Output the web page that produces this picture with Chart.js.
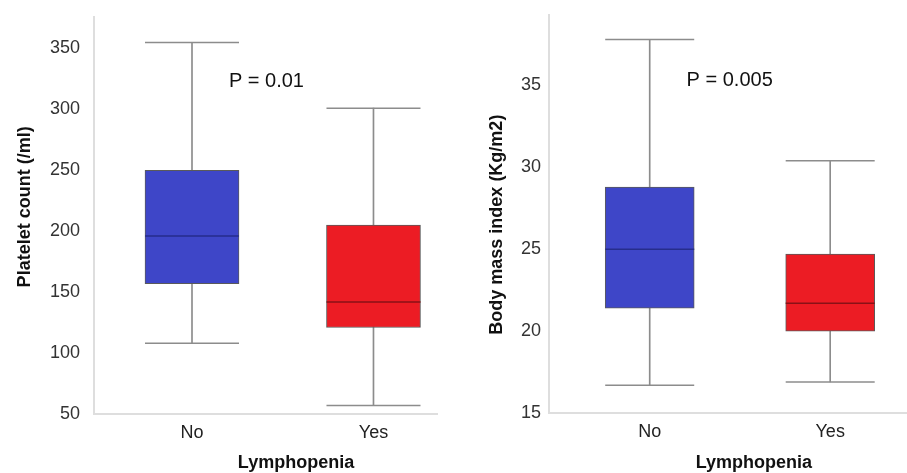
<!DOCTYPE html>
<html>
<head>
  <meta charset="UTF-8" />
  <title>Lymphopenia box plots</title>
  <style>
    body { margin: 0; background: #fff; }
    #wrap { position: relative; width: 907px; height: 473px; }
    .panel { position: absolute; top: 0; height: 473px; }
  </style>
</head>
<body>
  <div id="wrap">
    <div class="panel" style="left: 0; width: 453px;"><canvas id="plateletChart"></canvas></div>
    <div class="panel" style="left: 453px; width: 454px;"><canvas id="bmiChart"></canvas></div>
  </div>
  <script src="https://cdn.jsdelivr.net/npm/chart.js"></script>
  <script>
    const groups = ['No', 'Yes'];
    const groupColors = ['#3e46c8', '#ec1c24'];
    const medianColors = ['#262d8c', '#8a1116'];

    // platelet count (/ml)
    const plateletMin = [108, 57];
    const plateletQ1 = [157, 121];
    const plateletMedian = [196, 142];
    const plateletQ3 = [250, 205];
    const plateletMax = [355, 301];
    const plateletTicks = [50, 100, 150, 200, 250, 300, 350];

    // body mass index (Kg/m2)
    const bmiMin = [16.7, 16.9];
    const bmiQ1 = [21.4, 20.0];
    const bmiMedian = [25.0, 21.7];
    const bmiQ3 = [28.8, 24.7];
    const bmiMax = [37.8, 30.4];
    const bmiTicks = [15, 20, 25, 30, 35];

    const FONT = "'Liberation Sans', Arial, Helvetica, sans-serif";

    // p-value text and axis titles
    const notesPlugin = {
      id: 'notes',
      afterDraw(chart, args, opts) {
        const { ctx, chartArea, scales: { x, y } } = chart;
        ctx.save();
        ctx.fillStyle = '#111';
        ctx.textAlign = 'center';
        ctx.textBaseline = 'middle';
        ctx.font = '20px ' + FONT;
        ctx.fillText(opts.pText, x.getPixelForValue(opts.pAt[0]), y.getPixelForValue(opts.pAt[1]));
        ctx.font = 'bold 18px ' + FONT;
        ctx.fillText(opts.xTitle, x.getPixelForValue(opts.xTitleAt), chartArea.bottom + opts.xTitleGap);
        ctx.translate(opts.yTitleX, y.getPixelForValue(opts.yTitleAt));
        ctx.rotate(-Math.PI / 2);
        ctx.fillText(opts.yTitle, 0, 0);
        ctx.restore();
      }
    };

    const pts = vals => vals.map((v, i) => ({ x: i + 1, y: v }));
    const spans = (lo, hi) => lo.map((v, i) => ({ x: i + 1, y: [v, hi[i]] }));

    function makeBoxChart(id, s) {
      return new Chart(document.getElementById(id), {
        type: 'bar',
        data: {
          datasets: [
            {
              type: 'scatter', data: pts(s.median), pointStyle: 'line',
              radius: s.boxWidth / 2, hoverRadius: s.boxWidth / 2,
              borderColor: medianColors, borderWidth: 1.5, order: 0
            },
            {
              type: 'scatter', data: pts(s.min).concat(pts(s.max)), pointStyle: 'line',
              radius: s.boxWidth / 2, hoverRadius: s.boxWidth / 2,
              borderColor: '#8c8c8c', borderWidth: 1.5, order: 1
            },
            {
              data: spans(s.q1, s.q3), backgroundColor: groupColors,
              borderColor: '#5a5a5a', borderWidth: 1, borderSkipped: false,
              barThickness: s.boxWidth, grouped: false, order: 2
            },
            {
              data: spans(s.min, s.max), backgroundColor: '#8c8c8c',
              barThickness: 1, grouped: false, order: 3
            }
          ]
        },
        options: {
          responsive: true,
          maintainAspectRatio: false,
          animation: false,
          layout: { padding: s.padding, autoPadding: false },
          plugins: {
            legend: { display: false },
            tooltip: { enabled: false },
            notes: s.notes
          },
          scales: {
            x: {
              type: 'linear', min: s.xMin, max: s.xMax, offset: false,
              grid: { display: false },
              border: { color: '#dedede', width: 2 },
              afterBuildTicks: sc => { sc.ticks = groups.map((g, i) => ({ value: i + 1 })); },
              afterFit: sc => { sc.height = s.xAxisHeight; },
              ticks: {
                callback: v => groups[v - 1],
                font: { family: FONT, size: 18 }, color: '#222', padding: 0
              }
            },
            y: {
              min: s.yMin, max: s.yMax,
              grid: { display: false },
              border: { color: '#dedede', width: 2 },
              afterBuildTicks: sc => { sc.ticks = s.ticks.map(v => ({ value: v })); },
              afterFit: sc => { sc.width = s.yAxisWidth; },
              ticks: {
                font: { family: FONT, size: 18 }, color: '#333', padding: s.tickPad
              }
            }
          }
        },
        plugins: [notesPlugin]
      });
    }

    makeBoxChart('plateletChart', {
      min: plateletMin, q1: plateletQ1, median: plateletMedian, q3: plateletQ3, max: plateletMax,
      ticks: plateletTicks, yMin: 50, yMax: 376, xMin: 0.46, xMax: 2.35,
      boxWidth: 94, yAxisWidth: 94, xAxisHeight: 59, tickPad: 6,
      padding: { left: 0, top: 15, right: 16, bottom: 0 },
      notes: {
        pText: 'P = 0.01', pAt: [1.41, 323],
        xTitle: 'Lymphopenia', xTitleAt: 1.573, xTitleGap: 49,
        yTitle: 'Platelet count (/ml)', yTitleAt: 220, yTitleX: 25
      }
    });

    makeBoxChart('bmiChart', {
      min: bmiMin, q1: bmiQ1, median: bmiMedian, q3: bmiQ3, max: bmiMax,
      ticks: bmiTicks, yMin: 15, yMax: 39.3, xMin: 0.442, xMax: 2.42,
      boxWidth: 89, yAxisWidth: 96, xAxisHeight: 60, tickPad: 0,
      padding: { left: 0, top: 15, right: 1, bottom: 0 },
      notes: {
        pText: 'P = 0.005', pAt: [1.443, 35.3],
        xTitle: 'Lymphopenia', xTitleAt: 1.577, xTitleGap: 50,
        yTitle: 'Body mass index (Kg/m2)', yTitleAt: 26.5, yTitleX: 44
      }
    });
  </script>
</body>
</html>
